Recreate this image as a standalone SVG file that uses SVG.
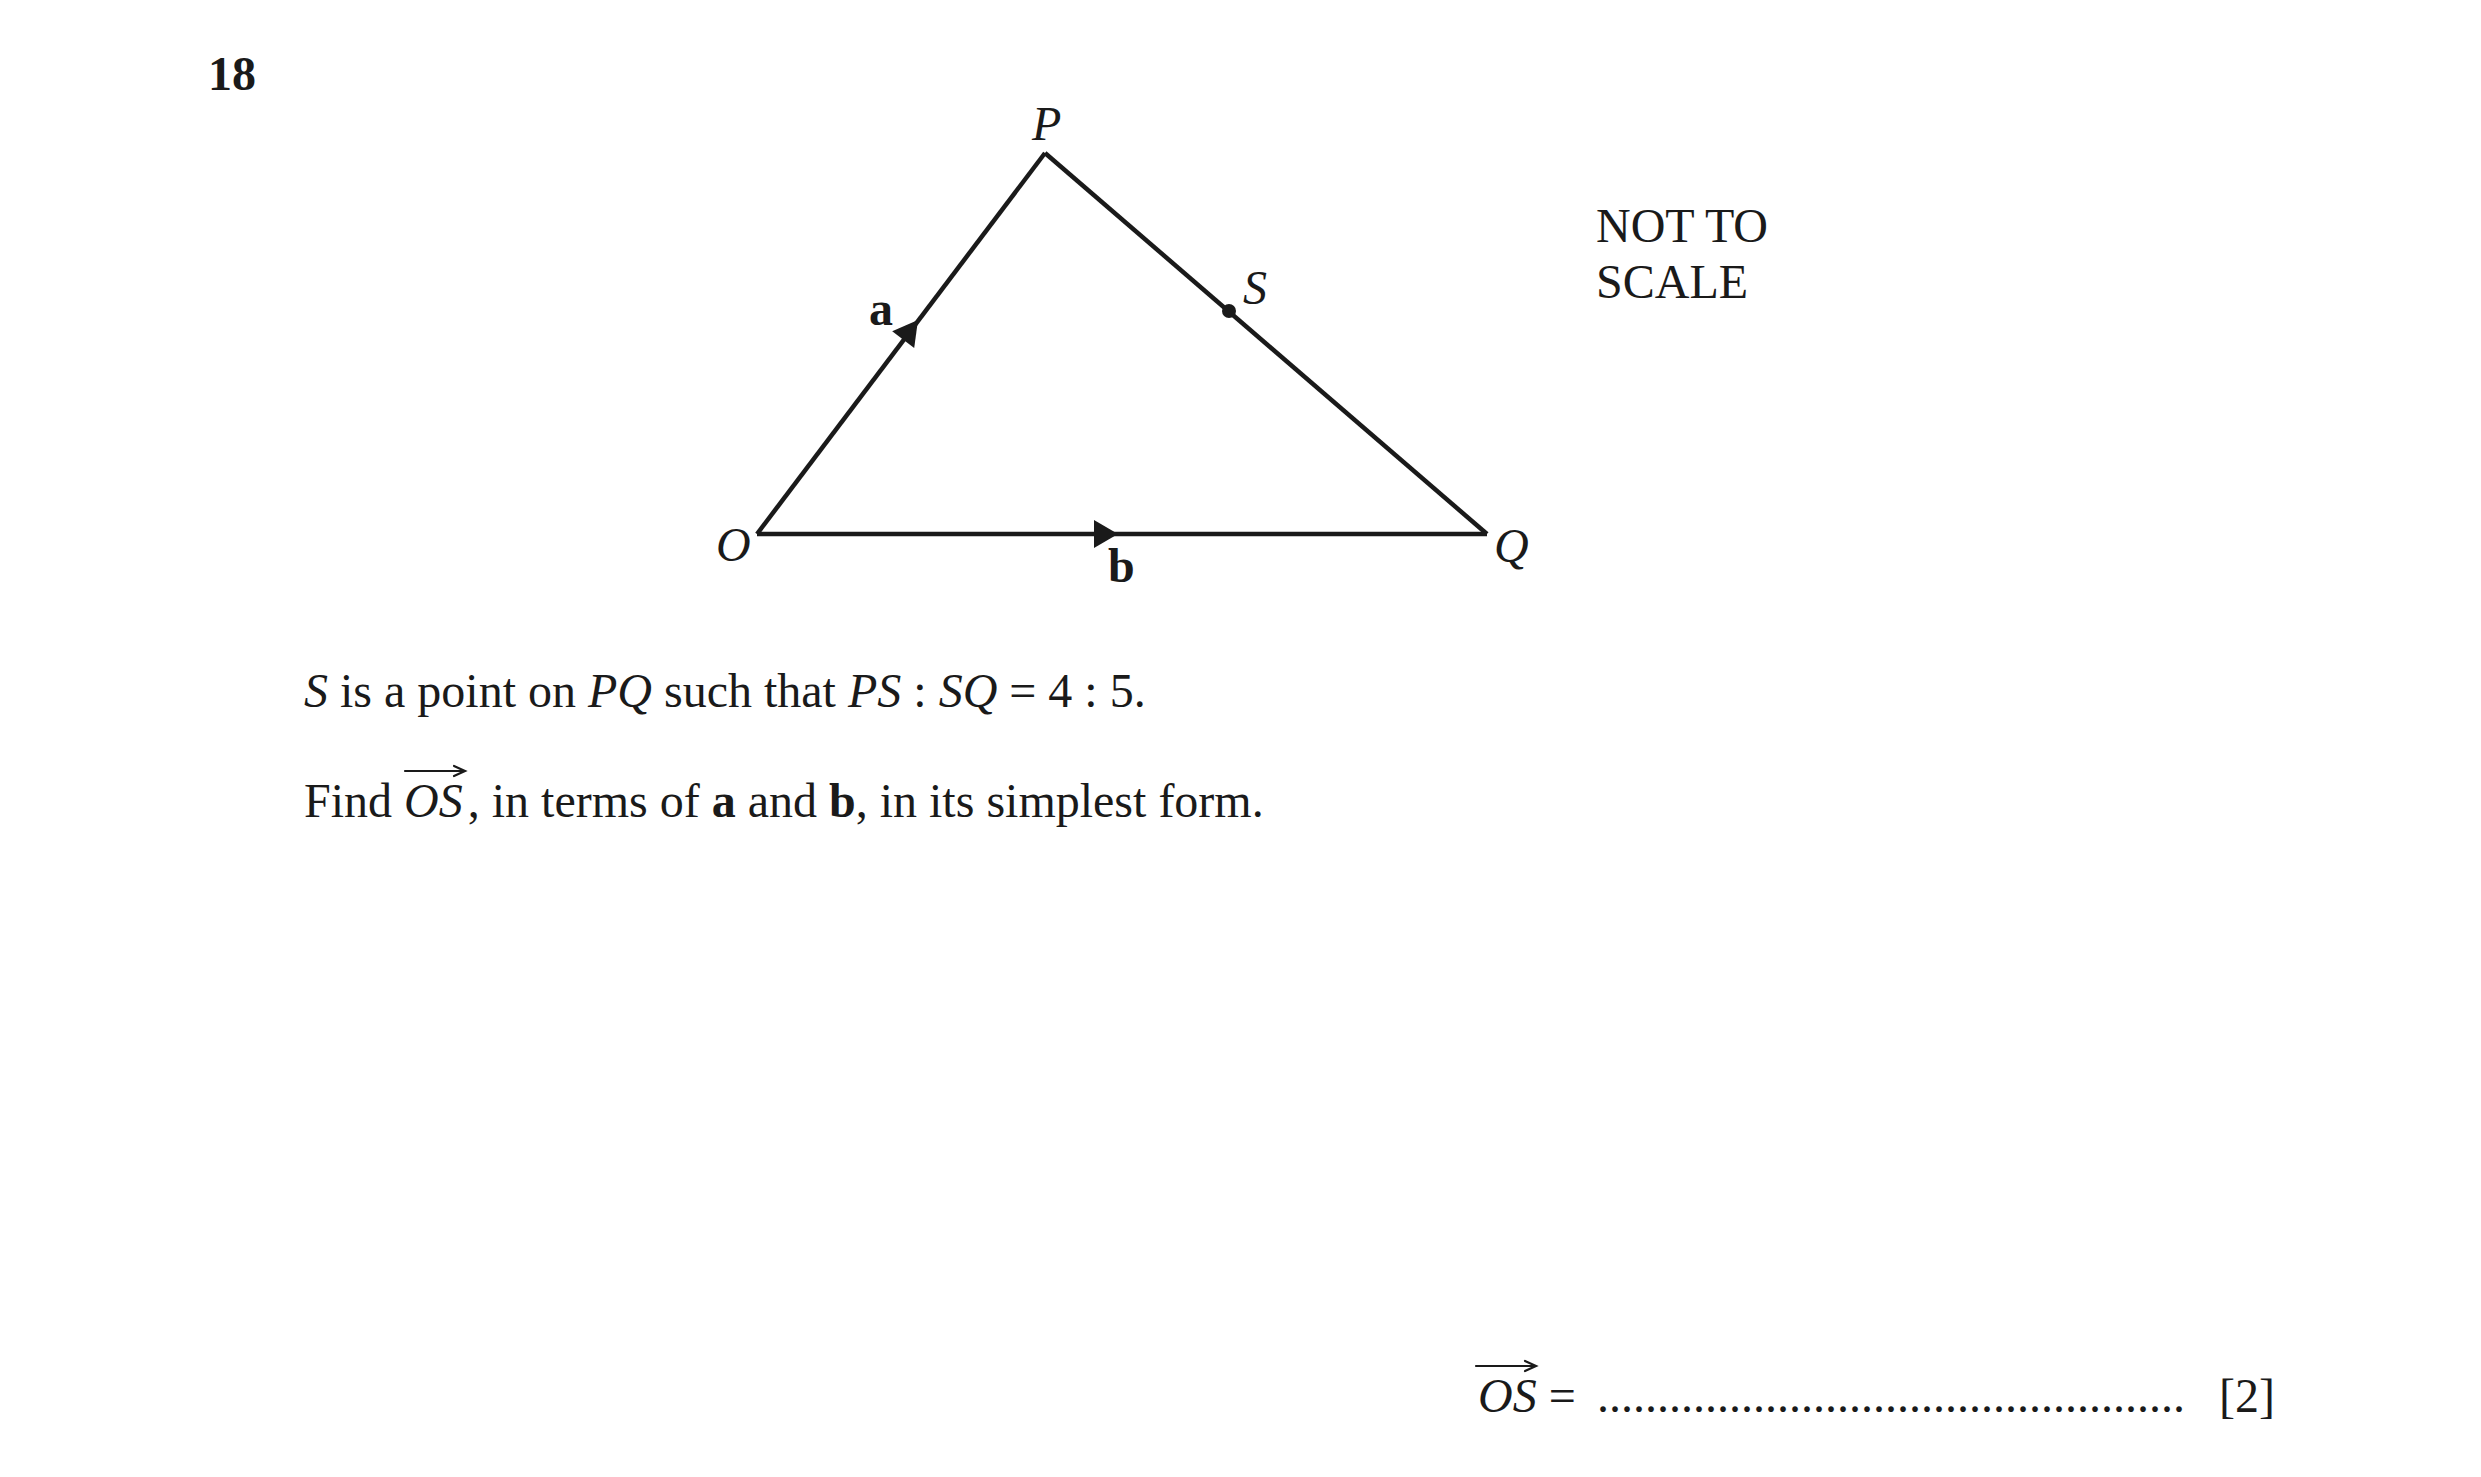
<svg xmlns="http://www.w3.org/2000/svg" width="2481" height="1477" viewBox="0 0 2481 1477">
<style>
text{font-family:"Liberation Serif","Times New Roman",serif;fill:#1a1a1a;font-size:48px}
.it{font-style:italic}
.b{font-weight:bold}
.edge{fill:none;stroke:#1a1a1a;stroke-width:4.5;stroke-linejoin:miter}
.head{fill:#1a1a1a;stroke:none}
.vec{fill:none;stroke:#1a1a1a;stroke-width:2.2;stroke-linecap:round}
</style>
<rect width="2481" height="1477" fill="#ffffff"/>
<text x="208" y="90" class="b" font-size="46">18</text>
<g id="connectors">
<path id="edge-OP" class="edge" d="M757,534 L1045,153"/>
<path id="edge-PQ" class="edge" d="M1045,153 L1487,534"/>
<path id="edge-OQ" class="edge" d="M757,534 L1487,534"/>
<path id="arrow-a" class="head" d="M918,320 L914.2,348 L892.2,331.2 Z"/>
<path id="arrow-b" class="head" d="M1118,534 L1094,520 L1094,548 Z"/>
<text x="869" y="325" class="b" font-size="46">a</text>
<text x="1108" y="582" class="b" font-size="46">b</text>
</g>
<g id="node-O"><text x="716" y="561" class="it">O</text></g>
<g id="node-P"><text x="1032" y="140" class="it">P</text></g>
<g id="node-Q"><text x="1494" y="562" class="it">Q</text></g>
<g id="node-S"><circle cx="1229" cy="311" r="7" fill="#1a1a1a"/><text x="1243" y="304" class="it">S</text></g>
<text x="1596" y="242" font-size="46">NOT TO</text>
<text x="1596" y="298" font-size="46">SCALE</text>
<text x="304" y="707"><tspan class="it">S</tspan> is a point on <tspan class="it">PQ</tspan> such that <tspan class="it">PS</tspan> : <tspan class="it">SQ</tspan> = 4 : 5.</text>
<text x="304" y="817">Find <tspan class="it">OS</tspan><tspan dx="5">, in terms of </tspan><tspan class="b">a</tspan> and <tspan class="b">b</tspan>, in its simplest form.</text>
<path class="vec" d="M405,771 L464,771 M454,766 L465,771 L454,776"/>
<text x="1478" y="1412"><tspan class="it">OS</tspan> = </text>
<path class="vec" d="M1476,1366 L1535,1366 M1525,1361 L1536,1366 L1525,1371"/>
<text x="1597" y="1412">.................................................</text>
<text x="2219" y="1412">[2]</text>
</svg>
